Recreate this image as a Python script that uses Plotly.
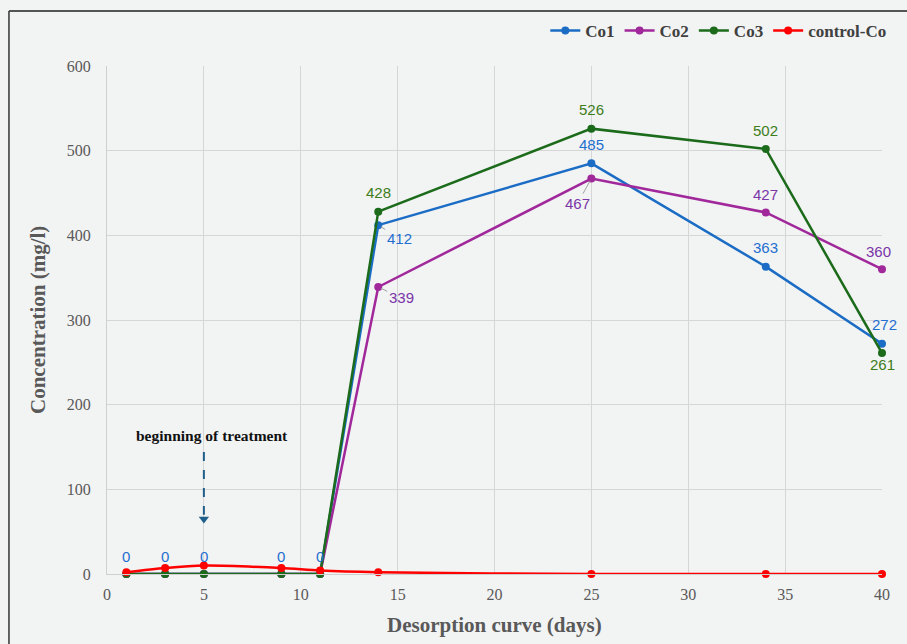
import plotly.graph_objects as go

# Sampling days and measured cobalt concentrations (mg/l)
days = [1, 3, 5, 9, 11, 14, 25, 34, 40]
co1 = [0, 0, 0, 0, 0, 412, 485, 363, 272]
co2 = [0, 0, 0, 0, 0, 339, 467, 427, 360]
co3 = [0, 0, 0, 0, 0, 428, 526, 502, 261]
control_co = [2, 7, 10, 7, 4, 2, 0, 0, 0]

series_names = ["Co1", "Co2", "Co3", "control-Co"]
line_colors = ["#1a6cc4", "#a0289b", "#1b6b1b", "#ff0000"]
label_colors = ["#1f6fd0", "#7a35a8", "#3d7d1a", "#ff0000"]

x_ticks = [0, 5, 10, 15, 20, 25, 30, 35, 40]
y_ticks = [0, 100, 200, 300, 400, 500, 600]

treatment_day = 5
treatment_text = "beginning of treatment"

# Label placement per point: (dx, dy) in px, leader flag
label_layout = {
    "Co1": [(0, -18)] * 5 + [(21, 13, True), (0, -19), (0, -19), (2, -19)],
    "Co2": [None] * 5 + [(23, 11, True), (-14, 25, True), (0, -18), (-4, -18)],
    "Co3": [None] * 5 + [(0, -19), (0, -19), (0, -18), (0, 11)],
}

SERIF = "Liberation Serif, Times New Roman, serif"
SANS = "Liberation Sans, Arial, sans-serif"

fig = go.Figure()

for name, ys, col in zip(series_names, [co1, co2, co3, control_co], line_colors):
    fig.add_trace(go.Scatter(
        x=days, y=ys, name=name, mode="lines+markers",
        line=dict(color=col, width=2.5,
                  shape="spline" if name == "control-Co" else "linear",
                  smoothing=0.8),
        marker=dict(color=col, size=8),
        cliponaxis=False,
    ))

annotations = []
for name, ys, lcol in zip(series_names[:3], [co1, co2, co3], label_colors[:3]):
    for xv, yv, pos in zip(days, ys, label_layout[name]):
        if pos is None:
            continue
        leader = len(pos) == 3 and pos[2]
        if leader:
            annotations.append(dict(
                x=xv, y=yv, xref="x", yref="y", text=str(yv),
                showarrow=True, ax=pos[0], ay=pos[1], arrowhead=0,
                arrowwidth=1, arrowcolor="#a0a0a0", standoff=3,
                font=dict(family=SANS, size=15, color=lcol),
            ))
        else:
            annotations.append(dict(
                x=xv, y=yv, xref="x", yref="y", text=str(yv),
                showarrow=False, xshift=pos[0], yshift=-pos[1],
                font=dict(family=SANS, size=15, color=lcol),
            ))

# Treatment marker: text, dashed stem and arrow tip
annotations.append(dict(
    x=treatment_day + 0.4, y=164, xref="x", yref="y", text="<b>" + treatment_text + "</b>",
    showarrow=False, font=dict(family=SERIF, size=15.5, color="#111111"),
))
fig.add_shape(type="line", xref="x", yref="y", x0=treatment_day, x1=treatment_day,
              y0=144, y1=70, line=dict(color="#1f5f8b", width=2, dash="dash"))
fig.add_trace(go.Scatter(
    x=[treatment_day], y=[65], mode="markers", showlegend=False, hoverinfo="skip",
    marker=dict(symbol="triangle-down", size=9, color="#1f5f8b"),
))

# Axis titles
annotations.append(dict(
    x=0.5, y=-0.1004, xref="paper", yref="paper", xanchor="center", yanchor="middle",
    text="<b>Desorption curve (days)</b>", showarrow=False,
    font=dict(family=SERIF, size=21, color="#595959"),
))
annotations.append(dict(
    x=-0.089, y=0.5, xref="paper", yref="paper", xanchor="center", yanchor="middle",
    text="<b>Concentration (mg/l)</b>", textangle=-90, showarrow=False,
    font=dict(family=SERIF, size=21, color="#595959"),
))

# Outer frame on top and left edges
fig.add_shape(type="line", xref="paper", yref="paper", x0=-0.1265, x1=1.05, y0=1.1083, y1=1.1083,
              line=dict(color="#555555", width=2))
fig.add_shape(type="line", xref="paper", yref="paper", x0=-0.1265, x1=-0.1265, y0=1.1083, y1=-0.15,
              line=dict(color="#333333", width=1.5))

fig.update_layout(
    width=907, height=644,
    margin=dict(l=107, r=25, t=66, b=70),
    paper_bgcolor="#f2f3f3", plot_bgcolor="#f2f3f3",
    annotations=annotations,
    showlegend=True,
    legend=dict(orientation="h", x=1.012, xanchor="right", y=1.069, yanchor="middle",
                bgcolor="rgba(0,0,0,0)", itemwidth=30, traceorder="normal",
                font=dict(family=SERIF, size=17, color="#404040", weight="bold"),
                itemclick=False),
    font=dict(family=SERIF, size=16, color="#595959"),
)
fig.update_xaxes(range=[0, 40], tickvals=x_ticks, showgrid=True, gridcolor="#d6d6d6", gridwidth=1,
                 zeroline=False, showline=True, linecolor="#cfcfcf", ticks="outside", ticklen=6,
                 tickcolor="rgba(0,0,0,0)", tickfont=dict(family=SERIF, size=16, color="#595959"))
fig.update_yaxes(range=[0, 600], tickvals=y_ticks, showgrid=True, gridcolor="#d6d6d6", gridwidth=1,
                 zeroline=False, showline=True, linecolor="#cfcfcf", ticks="outside", ticklen=12,
                 tickcolor="rgba(0,0,0,0)", tickfont=dict(family=SERIF, size=16, color="#595959"))

fig.write_html("out.html")
